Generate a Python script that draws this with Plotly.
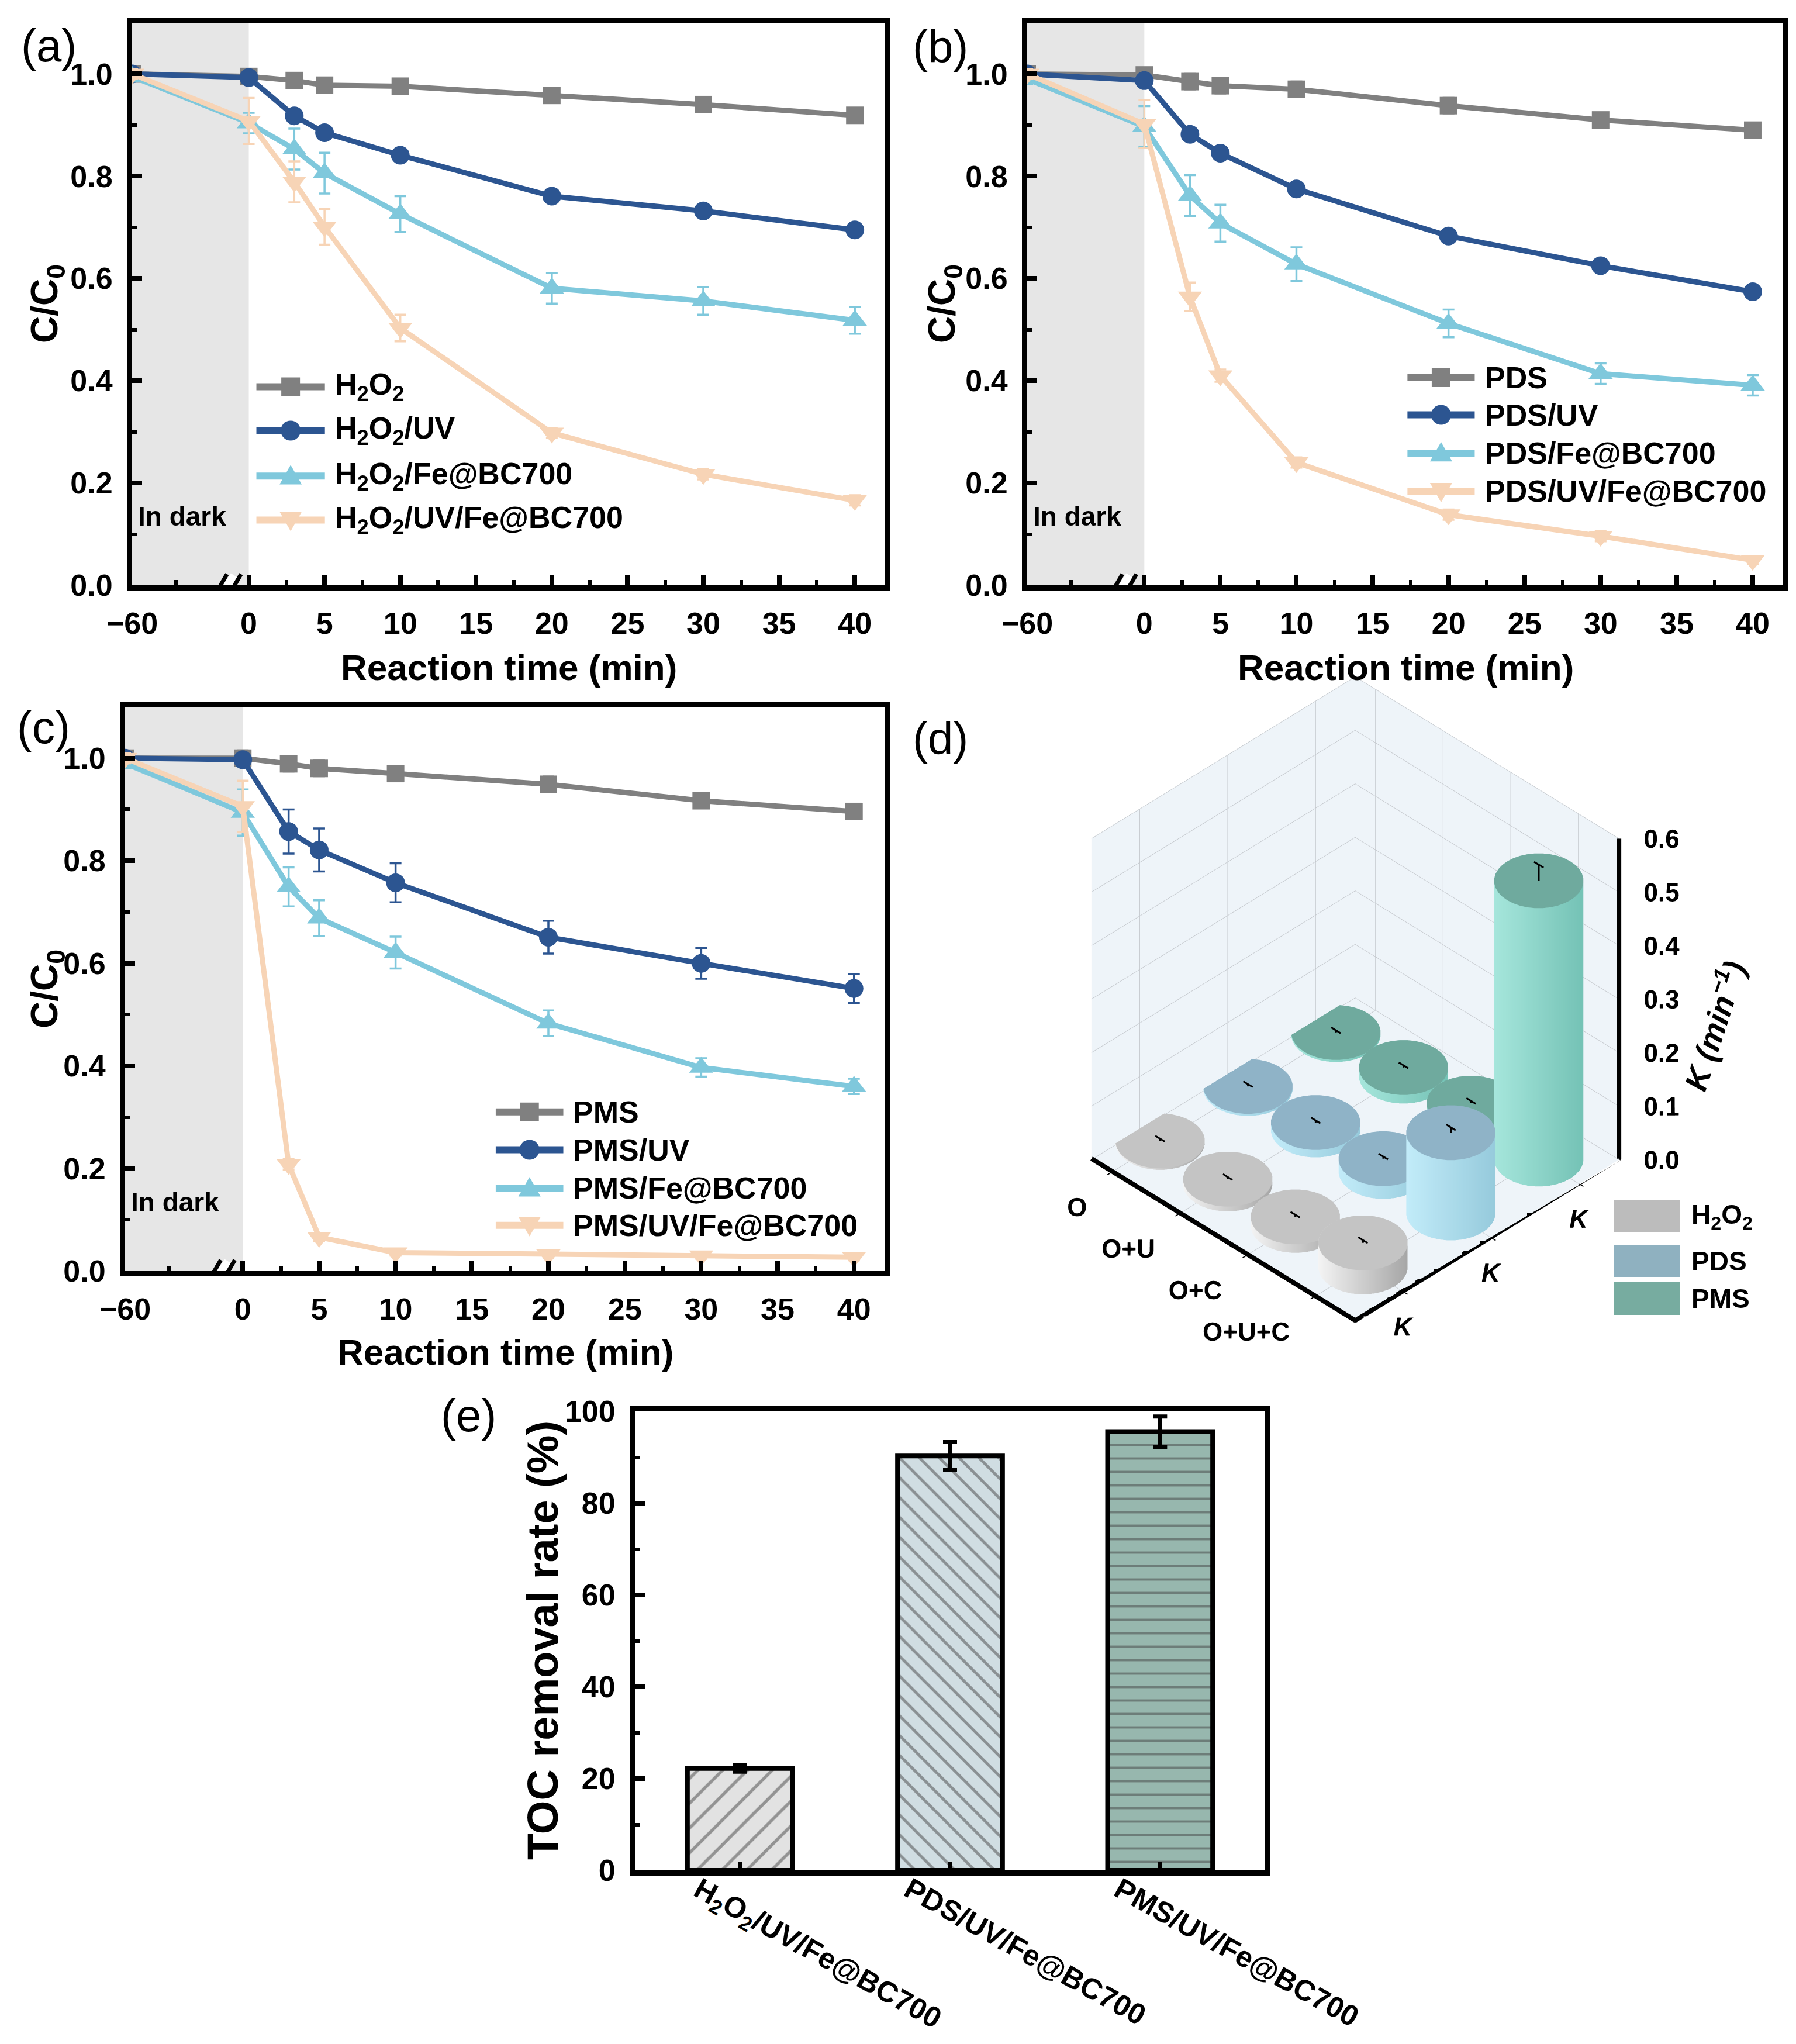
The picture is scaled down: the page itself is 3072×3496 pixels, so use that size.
#!/usr/bin/env python3
"""
Kinetics (a-c), rate constants (d) and TOC removal (e) for the Fe@BC700 oxidant systems.
"""

import numpy as np
import plotly.graph_objects as go

W, H = 3072, 3496
FONT = "Liberation Sans, Arial, sans-serif"

# ---- panels (a)-(c): C/C0 vs reaction time (min) ----
TIME = [-60, 0, 3, 5, 10, 20, 30, 40]

H2O2 = [1.000, 0.995, 0.987, 0.978, 0.976, 0.958, 0.940, 0.919]
H2O2_ERR = [0.010, 0.015, 0.015, 0.012, 0.012, 0.012, 0.012, 0.010]
H2O2_UV = [1.000, 0.993, 0.918, 0.885, 0.841, 0.761, 0.732, 0.695]
H2O2_UV_ERR = [0.008, 0.010, 0.010, 0.010, 0.008, 0.008, 0.008, 0.008]
H2O2_FE = [0.995, 0.904, 0.853, 0.806, 0.726, 0.581, 0.556, 0.518]
H2O2_FE_ERR = [0.010, 0.020, 0.040, 0.040, 0.035, 0.030, 0.027, 0.026]
H2O2_UV_FE = [1.000, 0.908, 0.789, 0.701, 0.503, 0.298, 0.217, 0.166]
H2O2_UV_FE_ERR = [0.010, 0.045, 0.040, 0.035, 0.026, 0.010, 0.010, 0.010]

PDS = [1.000, 0.998, 0.985, 0.977, 0.970, 0.938, 0.910, 0.890]
PDS_ERR = [0.010, 0.012, 0.015, 0.015, 0.015, 0.015, 0.012, 0.012]
PDS_UV = [1.000, 0.987, 0.882, 0.845, 0.775, 0.683, 0.625, 0.574]
PDS_UV_ERR = [0.008, 0.010, 0.010, 0.010, 0.010, 0.008, 0.008, 0.008]
PDS_FE = [0.990, 0.897, 0.762, 0.708, 0.628, 0.512, 0.414, 0.391]
PDS_FE_ERR = [0.010, 0.040, 0.040, 0.036, 0.033, 0.027, 0.020, 0.020]
PDS_UV_FE = [1.000, 0.902, 0.564, 0.410, 0.240, 0.138, 0.096, 0.049]
PDS_UV_FE_ERR = [0.010, 0.047, 0.028, 0.012, 0.010, 0.010, 0.010, 0.008]

PMS = [1.000, 1.000, 0.989, 0.980, 0.970, 0.949, 0.917, 0.896]
PMS_ERR = [0.010, 0.015, 0.015, 0.015, 0.015, 0.015, 0.012, 0.012]
PMS_UV = [1.000, 0.997, 0.857, 0.821, 0.757, 0.651, 0.600, 0.551]
PMS_UV_ERR = [0.008, 0.012, 0.043, 0.042, 0.038, 0.032, 0.030, 0.028]
PMS_FE = [0.990, 0.894, 0.749, 0.688, 0.621, 0.483, 0.397, 0.360]
PMS_FE_ERR = [0.010, 0.045, 0.038, 0.035, 0.031, 0.025, 0.018, 0.015]
PMS_UV_FE = [1.000, 0.906, 0.208, 0.066, 0.036, 0.032, 0.030, 0.027]
PMS_UV_FE_ERR = [0.010, 0.050, 0.010, 0.008, 0.006, 0.006, 0.006, 0.006]

LABELS_A = ["H<sub>2</sub>O<sub>2</sub>", "H<sub>2</sub>O<sub>2</sub>/UV",
            "H<sub>2</sub>O<sub>2</sub>/Fe@BC700", "H<sub>2</sub>O<sub>2</sub>/UV/Fe@BC700"]
LABELS_B = ["PDS", "PDS/UV", "PDS/Fe@BC700", "PDS/UV/Fe@BC700"]
LABELS_C = ["PMS", "PMS/UV", "PMS/Fe@BC700", "PMS/UV/Fe@BC700"]

# ---- panel (d): rate constants K (min^-1) ----
CONDITIONS = ["O", "O+U", "O+C", "O+U+C"]
OXIDANTS = ["H<sub>2</sub>O<sub>2</sub>", "PDS", "PMS"]
K_H2O2 = [0.003, 0.009, 0.016, 0.045]
K_PDS = [0.004, 0.014, 0.024, 0.150]
K_PMS = [0.004, 0.016, 0.027, 0.520]
K_H2O2_ERR = [0.004, 0.004, 0.004, 0.005]
K_PDS_ERR = [0.004, 0.004, 0.004, 0.010]
K_PMS_ERR = [0.004, 0.004, 0.004, 0.030]
K_TICKS = [0.0, 0.1, 0.2, 0.3, 0.4, 0.5, 0.6]

# ---- panel (e): TOC removal (%) ----
TOC_SYSTEMS = ["H<sub>2</sub>O<sub>2</sub>/UV/Fe@BC700", "PDS/UV/Fe@BC700", "PMS/UV/Fe@BC700"]
TOC_REMOVAL = [22.2, 90.3, 95.6]
TOC_ERR = [0.7, 3.0, 3.3]

# series styles: colour, symbol, size
STYLES = [("#808080", "square", 30), ("#2c5591", "circle", 32),
          ("#7fc8dc", "triangle-up", 36), ("#f7d4b6", "triangle-down", 36)]

BREAK = 7.7        # axis length given to the -60..0 min dark period
BREAK_MARK = -1.4  # where the // is drawn on the time axis


def tpos(t):
    """Position on the broken time axis."""
    return t if t >= 0 else t * BREAK / 60.0


def font(size, bold=True, italic=False):
    d = dict(family=FONT, size=size, color="black")
    if bold:
        d["weight"] = "bold"
    if italic:
        d["style"] = "italic"
    return d


def px(x):
    return x / W


def py(y):
    return 1 - y / H


def note(text, x, y, size, **kw):
    """Paper-positioned text centred on (x, y) pixels."""
    d = dict(text=text, x=px(x), y=py(y), xref="paper", yref="paper", xanchor="center",
             yanchor="middle", showarrow=False, font=font(size))
    d.update(kw)
    return d


fig = go.Figure()
shapes = []
annotations = []

# subplot frames in pixels: (x0, x1), (ytop, ybottom)
PANELS = [
    ("", [218, 1506], [31, 993],
     [(H2O2, H2O2_ERR), (H2O2_UV, H2O2_UV_ERR), (H2O2_FE, H2O2_FE_ERR), (H2O2_UV_FE, H2O2_UV_FE_ERR)],
     LABELS_A, (0.165, 0.256, 0.268), [0.353, 0.275, 0.194, 0.116]),
    ("2", [1749, 3042], [31, 993],
     [(PDS, PDS_ERR), (PDS_UV, PDS_UV_ERR), (PDS_FE, PDS_FE_ERR), (PDS_UV_FE, PDS_UV_FE_ERR)],
     LABELS_B, (0.503, 0.592, 0.604), [0.369, 0.303, 0.235, 0.167]),
    ("3", [206, 1505], [1201, 2166],
     [(PMS, PMS_ERR), (PMS_UV, PMS_UV_ERR), (PMS_FE, PMS_FE_ERR), (PMS_UV_FE, PMS_UV_FE_ERR)],
     LABELS_C, (0.488, 0.577, 0.588), [0.282, 0.215, 0.147, 0.081]),
]

layout_axes = {}
xpos = [tpos(t) for t in TIME]

for n, xs, ys, series, labels, leg_x, leg_y in PANELS:
    xname, yname = "x" + n, "y" + n
    for (vals, errs), (color, symbol, size) in zip(series, STYLES):
        fig.add_trace(go.Scatter(
            x=xpos, y=vals, mode="lines+markers", xaxis=xname, yaxis=yname,
            line=dict(color=color, width=9),
            marker=dict(symbol=symbol, size=size, color=color, line=dict(width=0)),
            error_y=dict(type="data", array=errs, color=color, thickness=3.5, width=10),
            showlegend=False, hoverinfo="skip"))

    layout_axes["xaxis" + n] = dict(
        domain=[px(xs[0]), px(xs[1])], anchor=yname, range=[-BREAK, 42], automargin=False,
        tickmode="array", tickvals=[tpos(-60)] + list(range(0, 45, 5)),
        ticktext=["\u221260"] + [str(v) for v in range(0, 45, 5)],
        ticks="inside", ticklen=17, tickwidth=8, tickcolor="black",
        minor=dict(tickmode="array", tickvals=[tpos(-37.5)] + [2.5 + 5 * k for k in range(8)],
                   ticks="inside", ticklen=9, tickwidth=6, tickcolor="black"),
        showline=True, linewidth=9, linecolor="black", mirror=True,
        showgrid=False, zeroline=False, tickfont=font(52), ticklabelstandoff=12)
    layout_axes["yaxis" + n] = dict(
        domain=[py(ys[1]), py(ys[0])], anchor=xname, range=[0, 1.1], automargin=False,
        tickmode="linear", tick0=0, dtick=0.2, tickformat=".1f",
        ticks="inside", ticklen=17, tickwidth=8, tickcolor="black",
        minor=dict(tickmode="linear", tick0=0, dtick=0.1, ticks="inside",
                   ticklen=9, tickwidth=6, tickcolor="black"),
        showline=True, linewidth=9, linecolor="black", mirror=True,
        showgrid=False, zeroline=False, tickfont=font(52), ticklabelstandoff=14)

    # dark-period shading
    shapes.append(dict(type="rect", xref=xname, yref=yname + " domain", x0=-BREAK, x1=0, y0=0, y1=1,
                       fillcolor="#e6e6e6", line=dict(width=0), layer="below"))
    # axis break //
    brk = dict(type="line", xref=xname, yref=yname, xsizemode="pixel", ysizemode="pixel",
               xanchor=BREAK_MARK, yanchor=0, layer="above")
    shapes.append(dict(brk, x0=-11, x1=11, y0=-17, y1=17, line=dict(color="white", width=13)))
    shapes.append(dict(brk, x0=-23, x1=-1, y0=-19, y1=19, line=dict(color="black", width=7)))
    shapes.append(dict(brk, x0=1, x1=23, y0=-19, y1=19, line=dict(color="black", width=7)))

    annotations.append(dict(text="In dark", xref=xname + " domain", yref=yname, x=0.006, y=0.135,
                            xanchor="left", yanchor="middle", showarrow=False, font=font(46)))

    # legend drawn in the panel
    for label, (color, symbol, size), yy in zip(labels, STYLES, leg_y):
        xr, yr = xname + " domain", yname + " domain"
        shapes.append(dict(type="line", xref=xr, yref=yr, x0=leg_x[0], x1=leg_x[1], y0=yy, y1=yy,
                           line=dict(color=color, width=12), layer="above"))
        m = dict(xref=xr, yref=yr, xsizemode="pixel", ysizemode="pixel",
                 xanchor=(leg_x[0] + leg_x[1]) / 2, yanchor=yy, fillcolor=color,
                 line=dict(width=0), layer="above")
        h = size / 2 + 1
        if symbol == "square":
            shapes.append(dict(m, type="rect", x0=-h, x1=h, y0=-h, y1=h))
        elif symbol == "circle":
            shapes.append(dict(m, type="circle", x0=-h, x1=h, y0=-h, y1=h))
        elif symbol == "triangle-up":
            shapes.append(dict(m, type="path", path=f"M{-h},{-0.75*h} L{h},{-0.75*h} L0,{h} Z"))
        else:
            shapes.append(dict(m, type="path", path=f"M{-h},{0.75*h} L{h},{0.75*h} L0,{-h} Z"))
        annotations.append(dict(text=label, xref=xr, yref=yr, x=leg_x[2], y=yy, xanchor="left",
                                yanchor="middle", showarrow=False, font=font(52)))

# axis titles for (a)-(c)
for (cx, cy), (tx, ty) in [((72, 512), (862, 1133)), ((1607, 512), (2396, 1133)), ((72, 1684), (856, 2304))]:
    annotations.append(note("C/C<sub>0</sub>", cx, cy, 64, textangle=-90))
    annotations.append(note("Reaction time (min)", tx, ty, 62))

# ---- panel (d): cylinders as one mesh in a 3D scene ----
XR = [-0.3, 3.6]
YR = [-0.55, 2.45]
ZR = [0, 0.6]
RX, RY = 0.12 * (XR[1] - XR[0]), 0.12 * (YR[1] - YR[0])
FLAT = dict(ambient=1.0, diffuse=0.0, specular=0.0, roughness=1.0, fresnel=0.0)

# side dark, side light, top
CYL_STYLE = [((166, 166, 166), (244, 244, 244), (196, 196, 196)),
             ((150, 202, 220), (194, 236, 249), (143, 179, 199)),
             ((116, 194, 181), (166, 230, 220), (111, 170, 158))]


def mix(c1, c2, t):
    return "rgb(%d,%d,%d)" % tuple(round(a + (b - a) * t) for a, b in zip(c1, c2))


NSEG = 36
theta = np.linspace(0, 2 * np.pi, NSEG, endpoint=False)
shade = 0.5 * (1 + np.cos(theta - np.radians(225)))
mx, my, mz, mc, mi, mj, mk = [], [], [], [], [], [], []
err_x, err_y, err_z = [], [], []
for j, (kvals, kerr) in enumerate([(K_H2O2, K_H2O2_ERR), (K_PDS, K_PDS_ERR), (K_PMS, K_PMS_ERR)]):
    dark, light, top = CYL_STYLE[j]
    for i, (k, e) in enumerate(zip(kvals, kerr)):
        cx, cy = i, j
        ring_x = cx + RX * np.cos(theta)
        ring_y = cy + RY * np.sin(theta)
        b = len(mx)
        for zz in (0.0, k):
            mx += list(ring_x)
            my += list(ring_y)
            mz += [zz] * NSEG
            mc += [mix(dark, light, s) for s in shade]
        for a in range(NSEG):
            c = (a + 1) % NSEG
            mi += [b + a, b + c]
            mj += [b + c, b + NSEG + c]
            mk += [b + NSEG + a, b + NSEG + a]
        # top cap
        t0 = len(mx)
        mx += [cx] + list(ring_x)
        my += [cy] + list(ring_y)
        mz += [k] * (NSEG + 1)
        mc += [mix(top, top, 0)] * (NSEG + 1)
        for a in range(NSEG):
            mi.append(t0)
            mj.append(t0 + 1 + a)
            mk.append(t0 + 1 + (a + 1) % NSEG)
        cap = 0.07
        err_x += [cx, cx, None, cx - cap, cx + cap, None, cx - cap, cx + cap, None]
        err_y += [cy, cy, None, cy, cy, None, cy, cy, None]
        err_z += [k - e, k + e, None, k + e, k + e, None, k - e, k - e, None]

fig.add_trace(go.Mesh3d(x=mx, y=my, z=mz, i=mi, j=mj, k=mk, vertexcolor=mc, flatshading=False,
                        lighting=FLAT, showscale=False, hoverinfo="skip", scene="scene"))
fig.add_trace(go.Scatter3d(x=err_x, y=err_y, z=err_z, mode="lines",
                           line=dict(color="black", width=6), hoverinfo="skip", scene="scene"))
# thick front edges of the box (lifted a hair above the floor so they are not hidden by it)
z_edge = ZR[0] + 0.002
fig.add_trace(go.Scatter3d(
    x=[XR[0], XR[1], XR[1], XR[1]], y=[YR[0], YR[0], YR[1], YR[1]], z=[z_edge, z_edge, z_edge, ZR[1]],
    mode="lines", line=dict(color="black", width=16), hoverinfo="skip", scene="scene"))

# axis labels of the 3D box written as text marks on the front edges
label_font = dict(family=FONT, size=44, color="black", weight="bold")
fig.add_trace(go.Scatter3d(
    x=[XR[1]] * len(K_TICKS), y=[YR[1]] * len(K_TICKS), z=K_TICKS, mode="text",
    text=["%.1f" % v for v in K_TICKS], textposition="middle right",
    textfont=label_font, hoverinfo="skip", scene="scene"))
fig.add_trace(go.Scatter3d(
    x=list(range(len(CONDITIONS))), y=[YR[0]] * len(CONDITIONS), z=[0] * len(CONDITIONS),
    mode="text", text=CONDITIONS, textposition="bottom left",
    textfont=label_font, hoverinfo="skip", scene="scene"))
fig.add_trace(go.Scatter3d(
    x=[XR[1]] * len(OXIDANTS), y=list(range(len(OXIDANTS))), z=[0] * len(OXIDANTS),
    mode="text", text=["K"] * len(OXIDANTS), textposition="bottom center",
    textfont=dict(label_font, style="italic"), hoverinfo="skip", scene="scene"))

axis3d = dict(showbackground=True, backgroundcolor="rgb(238,244,249)", gridcolor="rgb(196,200,205)",
              gridwidth=2, showspikes=False, zeroline=False, showline=False, ticks="outside",
              ticklen=10, tickcolor="black", tickwidth=4, showticklabels=False, title=dict(text=""))
scene = dict(
    domain=dict(x=[px(1580), px(3040)], y=[py(2349), py(1073)]),
    xaxis=dict(axis3d, range=XR, tickmode="array", tickvals=[0, 1, 2, 3]),
    yaxis=dict(axis3d, range=YR, tickmode="array", tickvals=[0, 1, 2]),
    zaxis=dict(axis3d, range=ZR, tickmode="array", tickvals=K_TICKS, ticks=""),
    aspectmode="manual", aspectratio=dict(x=1, y=1, z=1.09),
    camera=dict(eye=dict(x=1.32, y=-1.32, z=1.43), center=dict(x=0, y=0, z=-0.02),
                projection=dict(type="orthographic")),
    bgcolor="rgba(0,0,0,0)",
)
annotations.append(note("<i>K</i> (<i>min</i><sup>\u22121</sup>)", 2922, 1746, 54, textangle=-72,
                        font=font(54, italic=True)))

# legend for (d)
for (name, color), (y0, y1) in zip(zip(OXIDANTS, ["#bcbcbc", "#8fb1c0", "#77aca0"]),
                                   [(2045, 2100), (2121, 2176), (2185, 2241)]):
    shapes.append(dict(type="rect", xref="paper", yref="paper", x0=px(2753), x1=px(2866),
                       y0=py(y1), y1=py(y0), fillcolor=color, line=dict(width=0)))
    annotations.append(note(name, 2883, (y0 + y1) / 2, 46, xanchor="left"))

# ---- panel (e): TOC removal bars ----
fig.add_trace(go.Bar(
    x=[1, 2, 3], y=TOC_REMOVAL, width=0.5, xaxis="x4", yaxis="y4",
    marker=dict(color=["#e2e2e2", "#d0dde2", "#97b7ae"], line=dict(color="black", width=8),
                pattern=dict(shape=["/", "\\", "-"], fgcolor="black",
                             bgcolor=["#e2e2e2", "#d0dde2", "#97b7ae"],
                             size=[30, 24, 23], solidity=[0.18, 0.2, 0.17], fillmode="overlay")),
    error_y=dict(type="data", array=TOC_ERR, color="black", thickness=7, width=12),
    showlegend=False, hoverinfo="skip"))

layout_axes["xaxis4"] = dict(
    domain=[px(1078), px(2156)], anchor="y4", range=[0.5, 3.5], tickmode="array", automargin=False,
    tickvals=[1, 2, 3], ticktext=TOC_SYSTEMS, tickangle=29, ticks="inside", ticklen=15,
    tickwidth=8, tickcolor="black", showline=True, linewidth=9, linecolor="black", mirror=True,
    showgrid=False, zeroline=False, tickfont=font(50), ticklabelstandoff=-24, ticklabelshift=-70)
layout_axes["yaxis4"] = dict(
    domain=[py(3191), py(2406)], anchor="x4", range=[0, 100], tickmode="linear", tick0=0, dtick=20,
    ticks="inside", ticklen=17, tickwidth=8, tickcolor="black", automargin=False,
    minor=dict(tickmode="linear", tick0=0, dtick=10, ticks="inside", ticklen=9, tickwidth=6,
               tickcolor="black"),
    showline=True, linewidth=9, linecolor="black", mirror=True, showgrid=False, zeroline=False,
    tickfont=font(52), ticklabelstandoff=14)
annotations.append(note("TOC removal rate (%)", 920, 2798, 74, textangle=-90))

# panel letters
for letter, (lx, ly) in zip("abcde", [(75, 70), (1600, 72), (66, 1236), (1600, 1255), (793, 2413)]):
    annotations.append(note(f"({letter})", lx, ly, 78, font=font(78, bold=False)))

fig.update_layout(
    width=W, height=H, margin=dict(l=0, r=0, t=0, b=0, pad=0, autoexpand=False),
    paper_bgcolor="white", plot_bgcolor="white", showlegend=False, hovermode=False,
    shapes=shapes, annotations=annotations, scene=scene, **layout_axes)

fig.write_html("out.html")
